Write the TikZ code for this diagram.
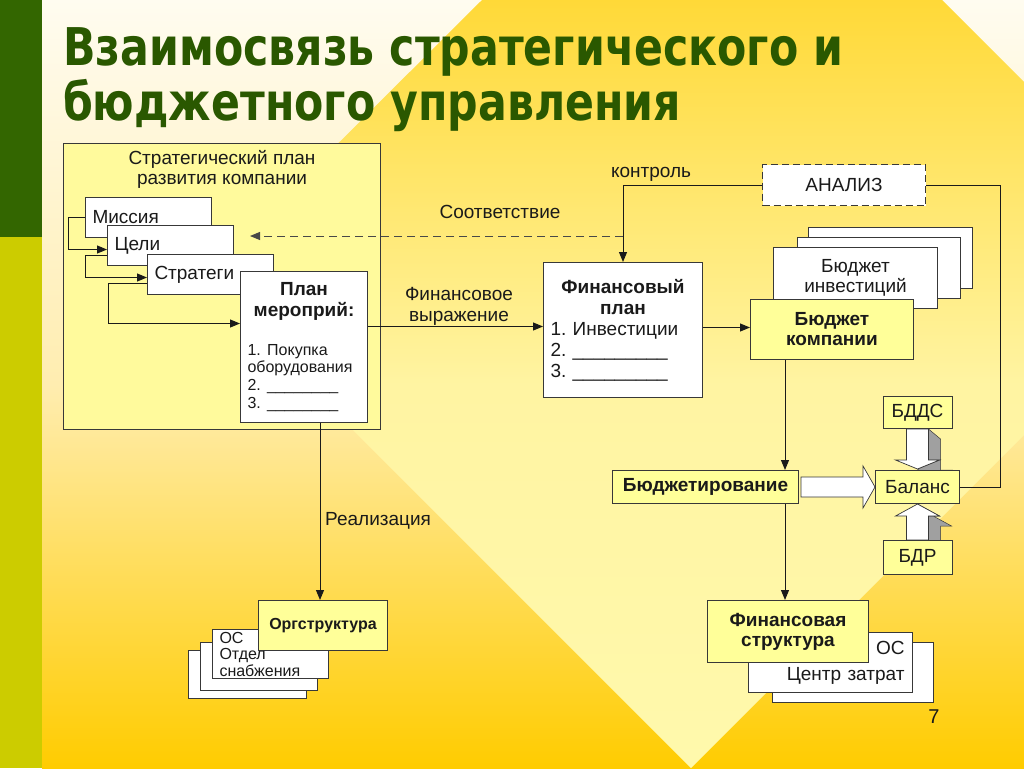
\documentclass[tikz,border=0pt]{standalone}
\usepackage{fontspec}
\setmainfont{Liberation Sans}
\newfontfamily\headfont{DejaVu Sans}
\usepackage{graphicx}
\usetikzlibrary{arrows.meta,positioning}
\frenchspacing

\definecolor{leafgreen}{HTML}{336600}
\definecolor{headgreen}{HTML}{2A5800}
\definecolor{oliveband}{HTML}{CCCC00}
\definecolor{lemon}{HTML}{FFFF99}
\definecolor{planfill}{HTML}{FFFA9C}
\definecolor{edge}{HTML}{383838}
\definecolor{ink}{HTML}{1A1A1A}
\definecolor{bgtop}{HTML}{FFFCF0}
\definecolor{bgmid}{HTML}{FFEDB0}
\definecolor{gold}{HTML}{FFCC00}
\definecolor{beamtop}{HTML}{FFD938}
\definecolor{beammid}{HTML}{FFF4A2}
\definecolor{beambot}{HTML}{FFF9AC}
\definecolor{extrude}{HTML}{A0A0A0}

\pgfdeclarelayer{backdrop}
\pgfdeclarelayer{behind}
\pgfsetlayers{backdrop,behind,main}

\newcommand{\longgap}{\_\_\_\_\_\_\_\_\_}
\newcommand{\shortgap}{\_\_\_\_\_\_\_\_}

\begin{document}
\begin{tikzpicture}[
		x=1pt,y=-1pt,
		every node/.style={font=\fontsize{19}{21}\selectfont, text=ink},
		box/.style={draw=edge, line width=1pt, fill=white, inner sep=0pt, anchor=north west},
		sheet/.style={box, minimum height=40, text width=112, inner xsep=7, align=left},
		link/.style={draw=ink, line width=1pt, -{Triangle[length=10pt,width=8pt]}},
		wire/.style={draw=ink, line width=1pt},
		blockarrow/.style={draw=edge, line width=0.7pt, fill=white},
		note/.style={inner sep=0pt}
		]
		\useasboundingbox (0,0) rectangle (1024,768);
		
		% slide background
		\begin{pgfonlayer}{backdrop}
			\shade[top color=bgtop, bottom color=gold, middle color=bgmid] (42,0) rectangle (1024,768);
			\shade[top color=beamtop, bottom color=beambot, middle color=beammid]
			(482,0) -- (942,0) -- (1024,82) -- (1024,435) -- (691,768) -- (202,279) -- cycle;
			\fill[leafgreen] (0,0) rectangle (42,237);
			\fill[oliveband] (0,237) rectangle (42,768);
		\end{pgfonlayer}
		
		\node[anchor=base west, inner sep=0pt, text=headgreen, font=\headfont\bfseries\fontsize{52}{48}\selectfont] (title) at (63,65)
		{\resizebox{780pt}{\height}{\begin{tabular}[t]{@{}l@{}}Взаимосвязь стратегического и\\ бюджетного управления\end{tabular}}};
		
		% strategic plan block
		\node[box, fill=planfill, minimum width=317, minimum height=286,
		label={[anchor=north, inner sep=0pt, yshift=-7pt, align=center, font=\fontsize{19}{20}\selectfont]north:Стратегический план\\развития компании}]
		(spl) at (63,143) {};
		
		\node[sheet] (mission) at (85,197) {Миссия};
		\node[sheet] (goals) at (107,225) {Цели};
		\node[sheet] (strategy) at (147,254) {Стратеги};
		\draw[link] (mission.west) -- ++(-17,0) |- ([yshift=-4pt]goals.west);
		\draw[link] ([yshift=-10pt]goals.west) -- ++(-22,0) |- ([yshift=-3pt]strategy.west);
		
		\node[box, minimum width=127, minimum height=151, text width=113, inner xsep=7, align=left] (plan) at (240,271)
		{{\centering\bfseries План\\мероприй:\par}\vspace{21pt}{\fontsize{16}{17.7}\selectfont 1. Покупка\\оборудования\\2. \shortgap\\3. \shortgap\par}};
		\draw[link] ([yshift=-9pt]strategy.west) -- ++(-39,0) |- ([yshift=23.5pt]plan.west);
		
		% financial plan
		\node[box, minimum width=159, minimum height=135, text width=145, inner xsep=7, align=left] (fin) at (543,262)
		{{\centering\bfseries Финансовый\\план\par}1. Инвестиции\\2. \longgap\\3. \longgap};
		\draw[link] ([yshift=20.5pt]plan.east) -- ([yshift=20.5pt]plan.east -| fin.west);
		\node[note, align=center] (finexpr) at (459,306) {Финансовое\\выражение};
		
		\node[box, dash pattern=on 7pt off 4pt, minimum width=163, minimum height=41] (analysis) at (762,164) {АНАЛИЗ};
		\draw[link] (analysis.west) -| (fin.north);
		\node[note, anchor=base] (control) at (651,177) {контроль};
		
		\coordinate (conform) at (250,236);
		\draw[link, draw=ink!80, dash pattern=on 8pt off 5pt] (fin.north |- conform) -- (conform);
		\node[note, anchor=base] (conformity) at (500,218) {Соответствие};
		
		% budgets
		\node[box, minimum width=164, minimum height=61] (invest3) at (808,227) {};
		\node[box, minimum width=163, minimum height=61] (invest2) at (797,237) {};
		\node[box, minimum width=164, minimum height=61, align=center, font=\fontsize{19}{19.5}\selectfont] (invest) at (773,247) {Бюджет\\инвестиций};
		\node[box, fill=lemon, minimum width=163, minimum height=60, align=center, font=\bfseries\fontsize{19}{20}\selectfont] (budget) at (750,299) {Бюджет\\компании};
		\draw[link] ([yshift=2.5pt]fin.east) -- ([yshift=2.5pt]fin.east -| budget.west);
		
		\node[box, fill=lemon, minimum width=186, minimum height=33, font=\bfseries\fontsize{19}{21}\selectfont] (budgeting) at (612,470) {Бюджетирование};
		\coordinate (spine) at (785,470);
		\draw[link] (budget.south -| spine) -- (budgeting.north -| spine);
		
		\node[box, fill=lemon, minimum width=84, minimum height=33, right=76pt of budgeting] (balance) {Баланс};
		\node[box, fill=lemon, minimum width=69, minimum height=32, above=41pt of balance] (bdds) {БДДС};
		\node[box, fill=lemon, minimum width=69, minimum height=34, below=36pt of balance] (bdr) {БДР};
		\draw[wire] (analysis.east) -- ++(74,0) |- (balance.east);
		
		\begin{pgfonlayer}{behind}
			\begin{scope}[shift={(budgeting.east)}]
				\draw[blockarrow] (2,-10) -- (64,-10) -- (64,-21) -- (76,0) -- (64,21) -- (64,10) -- (2,10) -- cycle;
			\end{scope}
			\begin{scope}[shift={(bdds.south)}]
				\filldraw[extrude, draw=edge, line width=0.5pt] (11,0) -- (23,10) -- (23,41) -- (34,41) -- (12,50) -- (0,40) -- (22,31) -- (11,31) -- cycle;
				\draw[blockarrow] (-11,0) -- (11,0) -- (11,31) -- (22,31) -- (0,40) -- (-22,31) -- (-11,31) -- cycle;
			\end{scope}
			\begin{scope}[shift={(bdr.north)}]
				\filldraw[extrude, draw=edge, line width=0.5pt] (0,-36) -- (12,-26) -- (34,-14) -- (23,-14) -- (23,10) -- (11,0) -- (11,-24) -- (22,-24) -- cycle;
				\draw[blockarrow] (-11,0) -- (-11,-24) -- (-22,-24) -- (0,-36) -- (22,-24) -- (11,-24) -- (11,0) -- cycle;
			\end{scope}
		\end{pgfonlayer}
		
		% financial structure
		\node[box, minimum width=161, minimum height=60] (costs2) at (772,642) {};
		\node[box, minimum width=164, minimum height=60, text width=148, inner xsep=8, align=right] (costs) at (748,632) {ОС\\[5pt]Центр затрат};
		\node[box, fill=lemon, minimum width=161, minimum height=62, align=center, font=\bfseries\fontsize{19}{20}\selectfont] (finstruct) at (707,600) {Финансовая\\структура};
		\draw[link] (budgeting.south -| spine) -- (finstruct.north -| spine);
		
		% organisational structure
		\coordinate (realize) at (320,525);
		\node[box, minimum width=118, minimum height=48] (dept3) at (188,650) {};
		\node[box, minimum width=117, minimum height=48] (dept2) at (200,642) {};
		\node[box, minimum width=116, minimum height=49, text width=102, inner xsep=7, align=left, font=\fontsize{16}{16.5}\selectfont] (dept) at (212,629) {ОС\\Отдел\\снабжения};
		\node[box, fill=lemon, minimum width=129, minimum height=50, font=\bfseries\fontsize{16}{18}\selectfont] (org) at (258,600) {Оргструктура};
		\draw[link] (plan.south -| realize) -- (org.north -| realize);
		\node[note, anchor=base west] (realization) at (325,525) {Реализация};
		
		\node[note, anchor=base, font=\fontsize{20}{24}\selectfont] (pageno) at (934,723) {7};
		
	\end{tikzpicture}
\end{document}
